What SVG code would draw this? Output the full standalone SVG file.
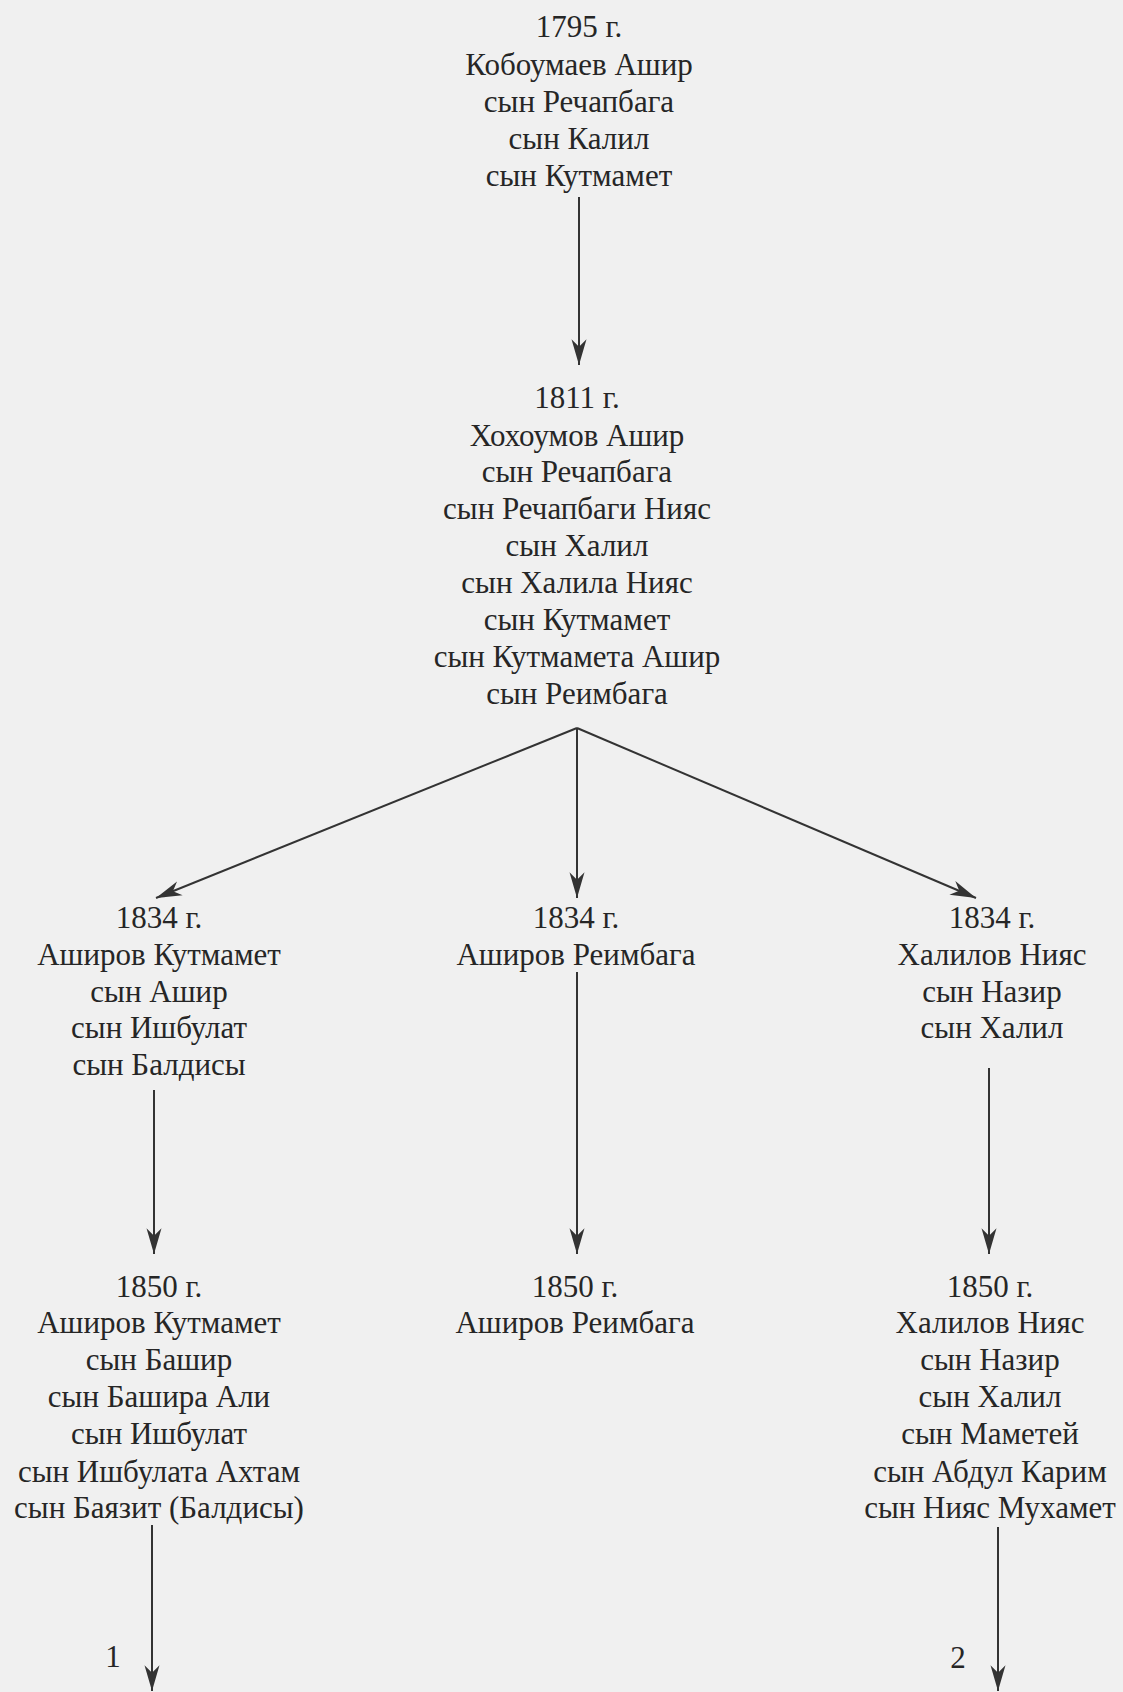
<svg xmlns="http://www.w3.org/2000/svg" width="1123" height="1692" viewBox="0 0 1123 1692">
<style>
text{font-family:"Liberation Serif","Times New Roman",serif;font-size:31px;fill:#262626;text-anchor:middle}
.c{stroke:#333;stroke-width:2;fill:none}
</style>
<defs>
<marker id="ah" markerUnits="userSpaceOnUse" markerWidth="30" markerHeight="20" viewBox="-26 -9 28 18" refX="0" refY="0" orient="auto">
<path d="M0,0 L-24,-7 L-17,0 L-24,7 Z" fill="#333"/>
</marker>
</defs>
<rect width="1123" height="1692" fill="#f0f0f0"/>
<g id="n1795">
<text x="579" y="37">1795 г.</text>
<text x="579" y="75">Кобоумаев Ашир</text>
<text x="579" y="112">сын Речапбага</text>
<text x="579" y="149">сын Калил</text>
<text x="579" y="186">сын Кутмамет</text>
</g>
<g id="n1811">
<text x="577" y="408">1811 г.</text>
<text x="577" y="446">Хохоумов Ашир</text>
<text x="577" y="482">сын Речапбага</text>
<text x="577" y="519">сын Речапбаги Нияс</text>
<text x="577" y="556">сын Халил</text>
<text x="577" y="593">сын Халила Нияс</text>
<text x="577" y="630">сын Кутмамет</text>
<text x="577" y="667">сын Кутмамета Ашир</text>
<text x="577" y="704">сын Реимбага</text>
</g>
<g id="n1834a">
<text x="159" y="928">1834 г.</text>
<text x="159" y="965">Аширов Кутмамет</text>
<text x="159" y="1002">сын Ашир</text>
<text x="159" y="1038">сын Ишбулат</text>
<text x="159" y="1075">сын Балдисы</text>
</g>
<g id="n1834b">
<text x="576" y="928">1834 г.</text>
<text x="576" y="965">Аширов Реимбага</text>
</g>
<g id="n1834c">
<text x="992" y="928">1834 г.</text>
<text x="992" y="965">Халилов Нияс</text>
<text x="992" y="1002">сын Назир</text>
<text x="992" y="1038">сын Халил</text>
</g>
<g id="n1850a">
<text x="159" y="1297">1850 г.</text>
<text x="159" y="1333">Аширов Кутмамет</text>
<text x="159" y="1370">сын Башир</text>
<text x="159" y="1407">сын Башира Али</text>
<text x="159" y="1444">сын Ишбулат</text>
<text x="159" y="1482">сын Ишбулата Ахтам</text>
<text x="159" y="1518">сын Баязит (Балдисы)</text>
</g>
<g id="n1850b">
<text x="575" y="1297">1850 г.</text>
<text x="575" y="1333">Аширов Реимбага</text>
</g>
<g id="n1850c">
<text x="990" y="1297">1850 г.</text>
<text x="990" y="1333">Халилов Нияс</text>
<text x="990" y="1370">сын Назир</text>
<text x="990" y="1407">сын Халил</text>
<text x="990" y="1444">сын Маметей</text>
<text x="990" y="1482">сын Абдул Карим</text>
<text x="990" y="1518">сын Нияс Мухамет</text>
</g>
<g id="connectors">
<line class="c" x1="579" y1="197" x2="579" y2="365" marker-end="url(#ah)"/>
<line class="c" x1="577" y1="728" x2="156" y2="898" marker-end="url(#ah)"/>
<line class="c" x1="577" y1="728" x2="577" y2="898" marker-end="url(#ah)"/>
<line class="c" x1="577" y1="728" x2="976" y2="898" marker-end="url(#ah)"/>
<line class="c" x1="154" y1="1090" x2="154" y2="1254" marker-end="url(#ah)"/>
<line class="c" x1="577" y1="972" x2="577" y2="1254" marker-end="url(#ah)"/>
<line class="c" x1="989" y1="1068" x2="989" y2="1254" marker-end="url(#ah)"/>
<line class="c" x1="152" y1="1525" x2="152" y2="1691" marker-end="url(#ah)"/>
<line class="c" x1="998" y1="1527" x2="998" y2="1691" marker-end="url(#ah)"/>
</g>
<g id="labels">
<text x="113" y="1667">1</text>
<text x="958" y="1668">2</text>
</g>
</svg>
